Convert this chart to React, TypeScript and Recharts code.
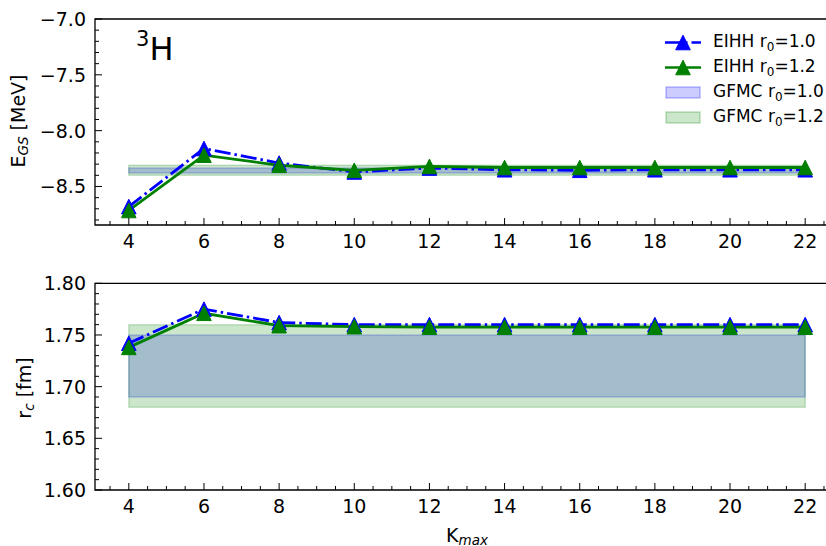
import React from 'react';
import { ComposedChart, Line, XAxis, YAxis, ReferenceArea, Legend } from 'recharts';

// ---------- data ----------
const K_MAX = [4, 6, 8, 10, 12, 14, 16, 18, 20, 22];
const E_EIHH_R10 = [-8.68, -8.16, -8.29, -8.37, -8.335, -8.35, -8.355, -8.35, -8.35, -8.35];
const E_EIHH_R12 = [-8.715, -8.22, -8.31, -8.355, -8.32, -8.33, -8.33, -8.33, -8.33, -8.33];
const RC_EIHH_R10 = [1.742, 1.775, 1.762, 1.760, 1.760, 1.760, 1.760, 1.760, 1.760, 1.760];
const RC_EIHH_R12 = [1.738, 1.771, 1.759, 1.758, 1.7575, 1.7575, 1.7575, 1.7575, 1.7575, 1.7575];

const BAND_K = [4, 22];
const E_GFMC_R10 = [-8.38, -8.335];
const E_GFMC_R12 = [-8.40, -8.31];
const RC_GFMC_R10 = [1.69, 1.75];
const RC_GFMC_R12 = [1.68, 1.76];

const X_DOMAIN = [3.1, 22.9];
const X_TICKS_MAJOR = [4, 6, 8, 10, 12, 14, 16, 18, 20, 22];
const X_TICKS_ALL = [3.5, 4, 4.5, 5, 5.5, 6, 6.5, 7, 7.5, 8, 8.5, 9, 9.5, 10, 10.5, 11, 11.5, 12, 12.5, 13, 13.5, 14, 14.5, 15, 15.5, 16, 16.5, 17, 17.5, 18, 18.5, 19, 19.5, 20, 20.5, 21, 21.5, 22, 22.5];

const TOP_Y_DOMAIN = [-8.845, -7.0];
const TOP_Y_MAJOR = [-8.5, -8.0, -7.5, -7.0];
const TOP_Y_ALL = [-8.8, -8.7, -8.6, -8.5, -8.4, -8.3, -8.2, -8.1, -8.0, -7.9, -7.8, -7.7, -7.6, -7.5, -7.4, -7.3, -7.2, -7.1, -7.0];

const BOT_Y_DOMAIN = [1.6, 1.8];
const BOT_Y_MAJOR = [1.6, 1.65, 1.7, 1.75, 1.8];
const BOT_Y_ALL = [1.6, 1.61, 1.62, 1.63, 1.64, 1.65, 1.66, 1.67, 1.68, 1.69, 1.7, 1.71, 1.72, 1.73, 1.74, 1.75, 1.76, 1.77, 1.78, 1.79, 1.8];

const LEGEND_ITEMS = [
  { name: 'EIHH', r0: '1.0', kind: 'dashdot', color: '#0000ff' },
  { name: 'EIHH', r0: '1.2', kind: 'solid', color: '#008000' },
  { name: 'GFMC', r0: '1.0', kind: 'patch', color: '#0000ff' },
  { name: 'GFMC', r0: '1.2', kind: 'patch', color: '#008000' },
];

const BLUE = '#0000ff';
const GREEN = '#008000';
const FONT = '"DejaVu Sans", sans-serif';
const DASHDOT = '16 4 2.5 4';

const topData = K_MAX.map((k, i) => ({ k, a: E_EIHH_R10[i], b: E_EIHH_R12[i] }));
const botData = K_MAX.map((k, i) => ({ k, a: RC_EIHH_R10[i], b: RC_EIHH_R12[i] }));

const isIn = (v: number, arr: number[]) => arr.some((m) => Math.abs(m - v) < 1e-9);

const XTick = (props: any) => {
  const { x, y, payload } = props;
  const v = payload.value;
  const major = isIn(v, X_TICKS_MAJOR);
  return (
    <g>
      <line x1={x} x2={x} y1={y} y2={y - (major ? 7 : 4)} stroke="#000" strokeWidth={1} />
      {major && (
        <text x={x} y={y + 23.3} textAnchor="middle" fontSize={19} fontFamily={FONT} fill="#000">
          {String(v)}
        </text>
      )}
    </g>
  );
};

const makeYTick = (majors: number[], digits: number) => (props: any) => {
  const { x, y, payload } = props;
  const v = payload.value;
  const major = isIn(v, majors);
  return (
    <g>
      <line x1={x} x2={x + (major ? 7 : 4)} y1={y} y2={y} stroke="#000" strokeWidth={1} />
      {major && (
        <text x={x - 9} y={y + 7} textAnchor="end" fontSize={19} fontFamily={FONT} fill="#000">
          {Number(v).toFixed(digits).replace('-', '\u2212')}
        </text>
      )}
    </g>
  );
};

const makeTri = (color: string) => (props: any) => {
  const { cx, cy, index } = props;
  if (cx == null || cy == null) return <g key={index} />;
  const s = 7.3;
  return (
    <path
      key={index}
      d={`M${cx},${cy - s}L${cx - s},${cy + s}L${cx + s},${cy + s}Z`}
      fill={color}
      stroke={color}
      strokeWidth={1}
    />
  );
};

const renderLegend = () => (
  <div style={{ fontFamily: FONT, fontSize: 17, color: '#000' }}>
    {LEGEND_ITEMS.map((it, i) => (
      <div key={i} style={{ display: 'flex', alignItems: 'center', height: 25 }}>
        <svg width={36} height={25} style={{ display: 'block' }}>
          {it.kind === 'patch' ? (
            <rect x={1} y={7} width={34} height={11} fill={it.color} fillOpacity={0.2} stroke={it.color} strokeOpacity={0.25} strokeWidth={1.5} />
          ) : (
            <g>
              <line x1={0} x2={36} y1={12.5} y2={12.5} stroke={it.color} strokeWidth={2.5} strokeDasharray={it.kind === 'dashdot' ? DASHDOT : undefined} />
              <path d={`M18,${12.5 - 7.3}L${18 - 7.3},${12.5 + 7.3}L${18 + 7.3},${12.5 + 7.3}Z`} fill={it.color} stroke={it.color} />
            </g>
          )}
        </svg>
        <span style={{ marginLeft: 12, whiteSpace: 'nowrap', lineHeight: '25px' }}>
          {it.name} r<span style={{ fontSize: 12, position: 'relative', top: 4 }}>0</span>={it.r0}
        </span>
      </div>
    ))}
  </div>
);

export default function App() {
  return (
    <div style={{ position: 'absolute', left: 0, top: 0, width: 826, height: 546, overflow: 'hidden', background: '#fff' }}>
      <div style={{ position: 'absolute', left: 0, top: 0 }}>
        <ComposedChart width={850} height={260} data={topData} margin={{ top: 19, right: 11, bottom: 34, left: 94 }}>
          <XAxis dataKey="k" type="number" domain={X_DOMAIN} ticks={X_TICKS_ALL} interval={0} allowDataOverflow
            height={1} tickSize={0} tickMargin={0} axisLine={false} tickLine={false} tick={XTick} />
          <YAxis type="number" domain={TOP_Y_DOMAIN} ticks={TOP_Y_ALL} interval={0} allowDataOverflow
            width={1} tickSize={0} tickMargin={0} axisLine={false} tickLine={false} tick={makeYTick(TOP_Y_MAJOR, 1)} />
          <ReferenceArea x1={BAND_K[0]} x2={BAND_K[1]} y1={E_GFMC_R10[0]} y2={E_GFMC_R10[1]} fill={BLUE} fillOpacity={0.2} stroke={BLUE} strokeOpacity={0.2} strokeWidth={1.5} />
          <ReferenceArea x1={BAND_K[0]} x2={BAND_K[1]} y1={E_GFMC_R12[0]} y2={E_GFMC_R12[1]} fill={GREEN} fillOpacity={0.2} stroke={GREEN} strokeOpacity={0.2} strokeWidth={1.5} />
          <ReferenceArea x1={X_DOMAIN[0]} x2={X_DOMAIN[1]} y1={TOP_Y_DOMAIN[0]} y2={TOP_Y_DOMAIN[1]} fill="none" stroke="#000" strokeWidth={1.3} />
          <Line dataKey="a" stroke={BLUE} strokeWidth={2.8} strokeDasharray={DASHDOT} dot={makeTri(BLUE)} isAnimationActive={false} />
          <Line dataKey="b" stroke={GREEN} strokeWidth={2.8} dot={makeTri(GREEN)} isAnimationActive={false} />
          <Legend layout="vertical" align="center" verticalAlign="middle" content={renderLegend}
            wrapperStyle={{ position: 'absolute', left: 665, top: 30, width: 200, height: 100 }} />
        </ComposedChart>
      </div>
      <div style={{ position: 'absolute', left: 0, top: 260 }}>
        <ComposedChart width={850} height={286} data={botData} margin={{ top: 23.3, right: 11, bottom: 55, left: 94 }}>
          <XAxis dataKey="k" type="number" domain={X_DOMAIN} ticks={X_TICKS_ALL} interval={0} allowDataOverflow
            height={1} tickSize={0} tickMargin={0} axisLine={false} tickLine={false} tick={XTick} />
          <YAxis type="number" domain={BOT_Y_DOMAIN} ticks={BOT_Y_ALL} interval={0} allowDataOverflow
            width={1} tickSize={0} tickMargin={0} axisLine={false} tickLine={false} tick={makeYTick(BOT_Y_MAJOR, 2)} />
          <ReferenceArea x1={BAND_K[0]} x2={BAND_K[1]} y1={RC_GFMC_R10[0]} y2={RC_GFMC_R10[1]} fill={BLUE} fillOpacity={0.2} stroke={BLUE} strokeOpacity={0.2} strokeWidth={1.5} />
          <ReferenceArea x1={BAND_K[0]} x2={BAND_K[1]} y1={RC_GFMC_R12[0]} y2={RC_GFMC_R12[1]} fill={GREEN} fillOpacity={0.2} stroke={GREEN} strokeOpacity={0.2} strokeWidth={1.5} />
          <ReferenceArea x1={X_DOMAIN[0]} x2={X_DOMAIN[1]} y1={BOT_Y_DOMAIN[0]} y2={BOT_Y_DOMAIN[1]} fill="none" stroke="#000" strokeWidth={1.3} />
          <Line dataKey="a" stroke={BLUE} strokeWidth={2.8} strokeDasharray={DASHDOT} dot={makeTri(BLUE)} isAnimationActive={false} />
          <Line dataKey="b" stroke={GREEN} strokeWidth={2.8} dot={makeTri(GREEN)} isAnimationActive={false} />
        </ComposedChart>
      </div>
      <svg width={826} height={546} style={{ position: 'absolute', left: 0, top: 0, pointerEvents: 'none' }}>
        <text x={136} y={60} fontSize={32} fontFamily={FONT} fill="#000">
          <tspan fontSize={21} dy={-14}>3</tspan>
          <tspan dy={14}>H</tspan>
        </text>
        <text transform="translate(25,121) rotate(-90)" textAnchor="middle" fontSize={19} fontFamily={FONT} fill="#000">
          E<tspan fontSize={13.5} fontStyle="italic" dy={3}>GS</tspan>
          <tspan dy={-3}> [MeV]</tspan>
        </text>
        <text transform="translate(31,388) rotate(-90)" textAnchor="middle" fontSize={19} fontFamily={FONT} fill="#000">
          r<tspan fontSize={13.5} fontStyle="italic" dy={3}>c</tspan>
          <tspan dy={-3}> [fm]</tspan>
        </text>
        <text x={467} y={541.5} textAnchor="middle" fontSize={19} fontFamily={FONT} fill="#000">
          K<tspan fontSize={13.5} fontStyle="italic" dy={3}>max</tspan>
        </text>
      </svg>
    </div>
  );
}
